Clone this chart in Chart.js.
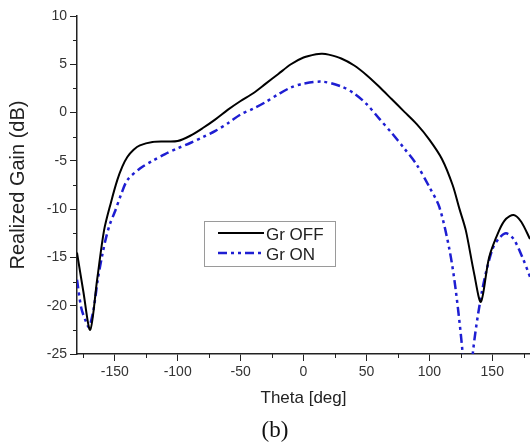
<!DOCTYPE html>
<html lang="en">
<head>
  <meta charset="UTF-8" />
  <title>Realized Gain vs Theta</title>
  <script src="https://cdn.jsdelivr.net/npm/chart.js"></script>
  <style>
    * { margin: 0; padding: 0; box-sizing: border-box; }
    body { background: #fff; width: 530px; height: 446px; overflow: hidden; position: relative; }
    #wrap { position: absolute; left: 0; top: 0; width: 530px; height: 446px; }
    .caption {
      position: absolute;
      left: 245px; top: 417px; width: 60px;
      text-align: center;
      font-family: 'Liberation Serif', 'Times New Roman', serif;
      font-size: 23px;
      color: #111;
    }
  </style>
</head>
<body>

<div id="wrap"><canvas id="gainChart" width="530" height="446"></canvas></div>
<div class="caption">(b)</div>

<script>
  // Gr OFF (black solid)
  const offTheta = [-180, -175, -169.5, -164, -158.5, -153, -148, -144, -140, -135, -130, -120, -110, -100, -90, -80, -70, -60, -50, -40, -30, -20, -10, 0, 10, 15, 20, 30, 40, 50, 60, 70, 80, 90, 100, 110, 118.5, 124, 129, 135.5, 141, 147.5, 155.5, 161, 167, 173, 180];
  const offGain  = [-14.5, -18.5, -22.5, -17.3, -12.2, -9.3, -7.0, -5.6, -4.6, -3.85, -3.4, -3.05, -3.0, -2.95, -2.4, -1.6, -0.7, 0.3, 1.2, 2.0, 3.0, 4.0, 5.0, 5.7, 6.05, 6.1, 6.0, 5.6, 4.9, 3.9, 2.7, 1.4, 0.1, -1.2, -2.8, -4.8, -7.5, -10.0, -12.2, -16.6, -19.6, -15.0, -12.2, -11.0, -10.6, -11.3, -13.1];

  // Gr ON (blue dash-dot-dot)
  const onTheta = [-180, -176.5, -173, -170.5, -167, -163.5, -160, -157, -154, -150, -145, -140, -130, -120, -110, -100, -90, -80, -70, -60, -50, -40, -30, -20, -10, 0, 15, 30, 40, 50, 60, 70, 80, 90, 100, 108, 116, 121, 126.5, 130.5, 134.5, 142, 150, 155.5, 161, 167, 174, 180];
  const onGain  = [-17.3, -20.3, -21.6, -22.2, -20.5, -17.3, -14.8, -13.0, -11.6, -10.3, -8.5, -7.0, -5.8, -5.0, -4.3, -3.7, -3.15, -2.55, -1.9, -1.1, -0.2, 0.4, 1.1, 1.9, 2.6, 3.0, 3.2, 2.7, 2.0, 0.9, -0.6, -2.1, -3.7, -5.4, -7.7, -9.8, -14.2, -18.4, -25, -33, -25, -18.4, -14.2, -13.0, -12.5, -13.1, -15.0, -17.0];

  const seriesNames = ["Gr OFF", "Gr ON"];
  const xMajorTicks = [-150, -100, -50, 0, 50, 100, 150];
  const xMinorTicks = [-175, -125, -75, -25, 25, 75, 125, 175];
  const yMinorTicks = [-22.5, -17.5, -12.5, -7.5, -2.5, 2.5, 7.5];

  const axisColor = "#222";
  const sans = "'Liberation Sans', Arial, sans-serif";
  const labelFont = { family: sans, size: 14 };

  // minor ticks, drawn through the scales
  const minorTicks = {
    id: "minorTicks",
    afterDraw(chart) {
      const c = chart.ctx, xs = chart.scales.x, ys = chart.scales.y;
      const area = chart.chartArea;
      c.save();
      c.strokeStyle = axisColor;
      c.lineWidth = 1;
      c.beginPath();
      xMinorTicks.forEach(v => {
        const px = Math.round(xs.getPixelForValue(v)) + 0.5;
        c.moveTo(px, area.bottom);
        c.lineTo(px, area.bottom + 4);
      });
      yMinorTicks.forEach(v => {
        const py = Math.round(ys.getPixelForValue(v)) + 0.5;
        c.moveTo(area.left - 4, py);
        c.lineTo(area.left, py);
      });
      c.stroke();
      c.restore();
    }
  };

  // boxed legend inside the plot
  const boxLegend = {
    id: "boxLegend",
    afterDraw(chart) {
      const c = chart.ctx;
      const bx = 204, by = 221, bw = 131, bh = 45;
      c.save();
      c.fillStyle = "#fff";
      c.fillRect(bx, by, bw, bh);
      c.strokeStyle = "#9a9a9a";
      c.lineWidth = 1;
      c.strokeRect(bx + 0.5, by + 0.5, bw, bh);
      chart.data.datasets.forEach((ds, i) => {
        const y = by + 12 + i * 20;
        c.strokeStyle = ds.borderColor;
        c.lineWidth = ds.borderWidth;
        c.setLineDash(ds.borderDash || []);
        c.beginPath();
        c.moveTo(bx + 14, y);
        c.lineTo(bx + 60, y);
        c.stroke();
        c.setLineDash([]);
        c.fillStyle = "#222";
        c.font = "17px " + sans;
        c.textBaseline = "middle";
        c.fillText(ds.label, bx + 62, y + 2);
      });
      c.restore();
    }
  };

  const ctx = document.getElementById("gainChart").getContext("2d");
  new Chart(ctx, {
    type: "line",
    data: {
      datasets: [
        {
          label: seriesNames[0],
          data: offTheta.map((t, i) => ({ x: t, y: offGain[i] })),
          borderColor: "#000",
          borderWidth: 2,
          pointRadius: 0,
          fill: false,
          tension: 0.3,
          clip: 0
        },
        {
          label: seriesNames[1],
          data: onTheta.map((t, i) => ({ x: t, y: onGain[i] })),
          borderColor: "#1e1ed2",
          borderWidth: 2.5,
          borderDash: [9, 4, 3, 4, 3, 4],
          pointRadius: 0,
          fill: false,
          tension: 0.3,
          clip: 0
        }
      ]
    },
    options: {
      responsive: false,
      animation: false,
      layout: { padding: { top: 16, right: 0, left: 0, bottom: 0 } },
      plugins: { legend: { display: false }, tooltip: { enabled: false } },
      scales: {
        x: {
          type: "linear",
          min: -180,
          max: 180,
          afterBuildTicks: s => { s.ticks = xMajorTicks.map(v => ({ value: v })); },
          afterFit: s => { s.height = 92; },
          grid: { drawOnChartArea: false, drawTicks: true, tickLength: 7, color: axisColor, tickWidth: 1 },
          border: { display: true, color: axisColor, width: 1.5 },
          ticks: { color: "#333", font: labelFont, padding: 3, maxRotation: 0 },
          title: {
            display: true,
            text: "Theta [deg]",
            color: "#222",
            font: { family: sans, size: 17 },
            padding: { top: 0, bottom: 37 }
          }
        },
        y: {
          min: -25,
          max: 10,
          afterFit: s => { s.width = 77; },
          ticks: { stepSize: 5, color: "#333", font: labelFont, padding: 3 },
          grid: { drawOnChartArea: false, drawTicks: true, tickLength: 7, color: axisColor, tickWidth: 1 },
          border: { display: true, color: axisColor, width: 1.5 },
          title: {
            display: true,
            text: "Realized Gain (dB)",
            color: "#222",
            font: { family: sans, size: 20 },
            padding: { top: 6, bottom: 0 }
          }
        }
      }
    },
    plugins: [minorTicks, boxLegend]
  });
</script>
</body>
</html>
